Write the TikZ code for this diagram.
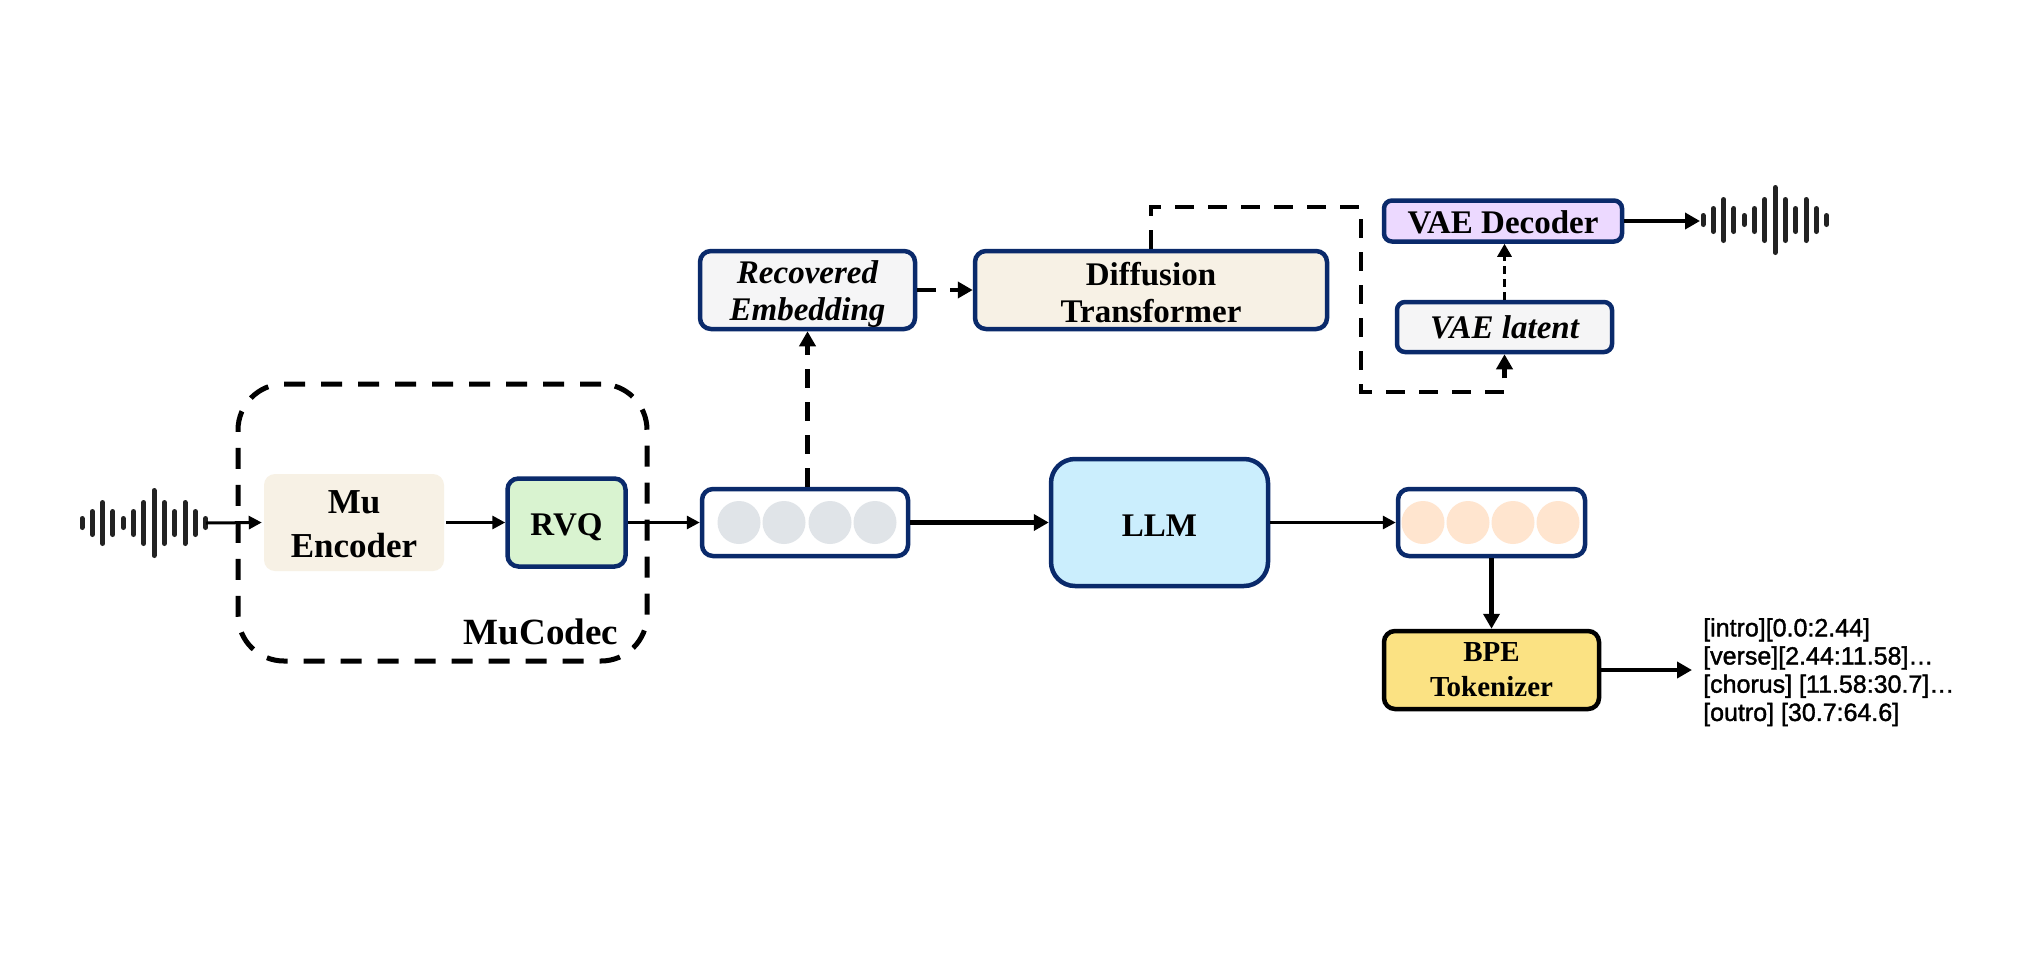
\documentclass[tikz,border=0pt]{standalone}
\usepackage{fontspec}
\setmainfont{Liberation Serif}
\newfontfamily\outfont[BoldFont={Liberation Sans},BoldFeatures={FakeBold=1.5}]{Liberation Sans}
\usetikzlibrary{arrows.meta}
\definecolor{navy}{HTML}{0A2A6B}
\definecolor{creamfill}{HTML}{F7F1E5}
\definecolor{greenfill}{HTML}{D9F3D0}
\definecolor{bluefill}{HTML}{CBEEFD}
\definecolor{yellowfill}{HTML}{FBE283}
\definecolor{violetfill}{HTML}{ECD9FF}
\definecolor{greyfill}{HTML}{F5F5F6}
\definecolor{dotgrey}{HTML}{E0E4E8}
\definecolor{dotorange}{HTML}{FFE5CF}
\definecolor{barcol}{HTML}{222222}
\newcommand{\dn}[1]{\rule{0pt}{#1pt}}
\tikzset{
  blockbox/.style={rectangle,rounded corners=11pt,inner sep=0pt,align=center,line width=4.5pt,draw=navy,
    font=\fontsize{33}{37}\selectfont\bfseries},
  italicbox/.style={blockbox,font=\fontsize{33}{37}\selectfont\bfseries\itshape,fill=greyfill},
  tokenbox/.style={blockbox,fill=white,minimum width=206pt,minimum height=67pt},
  dotnode/.style={circle,inner sep=0pt,minimum size=43pt},
  flow/.style={line width=3pt,-{Triangle[length=13pt,width=13pt]}},
  heavyflow/.style={line width=4.5pt,-{Triangle[length=15pt,width=16pt]}},
  dashflow/.style={heavyflow,dash pattern=on 19pt off 14pt},
  thindash/.style={line width=3pt,dash pattern=on 8pt off 5pt,-{Triangle[length=13pt,width=14pt]}},
  groupbox/.style={rectangle,rounded corners=46pt,draw=black,line width=5pt,dash pattern=on 21pt off 16pt}
}
\newcommand{\wavebars}[2]{%
  \foreach \dx/\hh in {0/7,1/14,2/23,3/14,4/7,5/14,6/23,7/35,8/23,9/14,10/23,11/14,12/7}{
    \draw[barcol,line width=5pt,line cap=round] ({#1+10.3*\dx},{#2-\hh+2.5}) -- ({#1+10.3*\dx},{#2+\hh-2.5});
  }}
\begin{document}
\begin{tikzpicture}[x=1pt,y=-1pt]
\useasboundingbox (0,0) rectangle (2020,964);
\fill[white] (0,0) rectangle (2020,964);

% MuCodec group
\node[groupbox,minimum width=409pt,minimum height=277pt] (group) at (442.5,522.5) {};
\node[font=\fontsize{37}{40}\selectfont\bfseries,inner sep=0pt] (grouplabel) at (541,632) {MuCodec};

% Blocks
\node[blockbox,draw=none,fill=creamfill,minimum width=180pt,minimum height=97pt,font=\fontsize{35}{44}\selectfont\bfseries] (enc) at (354,522.5) {\dn{27}Mu\\Encoder};
\node[blockbox,fill=greenfill,minimum width=118pt,minimum height=88pt] (rvq) at (566.5,522.5) {\dn{32}RVQ};
\node[tokenbox] (tok1) at (805,522.5) {};
\node[blockbox,fill=bluefill,rounded corners=24pt,minimum width=217pt,minimum height=127pt] (llm) at (1159.5,522.5) {\dn{27}LLM};
\node[tokenbox,minimum width=187pt] (tok2) at (1491.5,522.5) {};
\node[blockbox,draw=black,fill=yellowfill,minimum width=215pt,minimum height=78pt,font=\fontsize{29}{35}\selectfont\bfseries] (bpe) at (1491.5,670) {BPE\\Tokenizer};
\node[italicbox,minimum width=215pt,minimum height=78pt] (rec) at (807.5,290) {\dn{32}Recovered\\Embedding};
\node[blockbox,fill=creamfill,minimum width=352pt,minimum height=78pt] (diff) at (1151,290) {\dn{28}Diffusion\\Transformer};
\node[blockbox,fill=violetfill,rounded corners=8pt,minimum width=238pt,minimum height=41pt] (dec) at (1503,221) {\dn{25}VAE Decoder};
\node[italicbox,rounded corners=8pt,minimum width=215pt,minimum height=50pt] (lat) at (1504.5,327) {\dn{24}VAE latent};

% Token dots
\foreach \nm/\cx in {a/739,b/784,c/830,d/875}{\node[dotnode,fill=dotgrey] (g\nm) at (\cx,522.5) {};}
\foreach \nm/\cx in {a/1423,b/1468,c/1513,d/1558}{\node[dotnode,fill=dotorange] (o\nm) at (\cx,522.5) {};}

% Waveforms
\wavebars{82}{523}
\wavebars{1703}{220}
\coordinate (wavein) at (206,523);
\coordinate (waveout) at (1700,221);

% Output text
\node[anchor=north west,inner sep=0pt,align=left,font=\outfont\bfseries\fontsize{25}{28.2}\selectfont] (out) at (1703,618)
  {{[intro][0.0:2.44]}\\{[verse][2.44:11.58]…}\\{[chorus] [11.58:30.7]…}\\{[outro] [30.7:64.6]}};
\coordinate (outin) at (out.west |- bpe.east);

% Connectors
\draw[flow] (wavein) -- (enc.west);
\draw[flow] (enc.east) -- (rvq.west);
\draw[flow] (rvq.east) -- (tok1.west);
\draw[heavyflow] (tok1.east) -- (llm.west);
\draw[flow] (llm.east) -- (tok2.west);
\draw[heavyflow] (tok2.south) -- (bpe.north);
\draw[heavyflow] (bpe.east) -- ([xshift=-11pt]outin);
\draw[heavyflow] (dec.east) -- (waveout);
\draw[dashflow] (rec.south |- tok1.north) -- (rec.south);
\draw[dashflow] (rec.east) -- (diff.west);
\draw[thindash] (lat.north) -- (lat.north |- dec.south);
\coordinate (turna) at (1361,207);
\coordinate (turnb) at (1361,392);
\draw[dashflow] (diff.north) |- (turna) -- (turnb) -| (lat.south);
\end{tikzpicture}
\end{document}
